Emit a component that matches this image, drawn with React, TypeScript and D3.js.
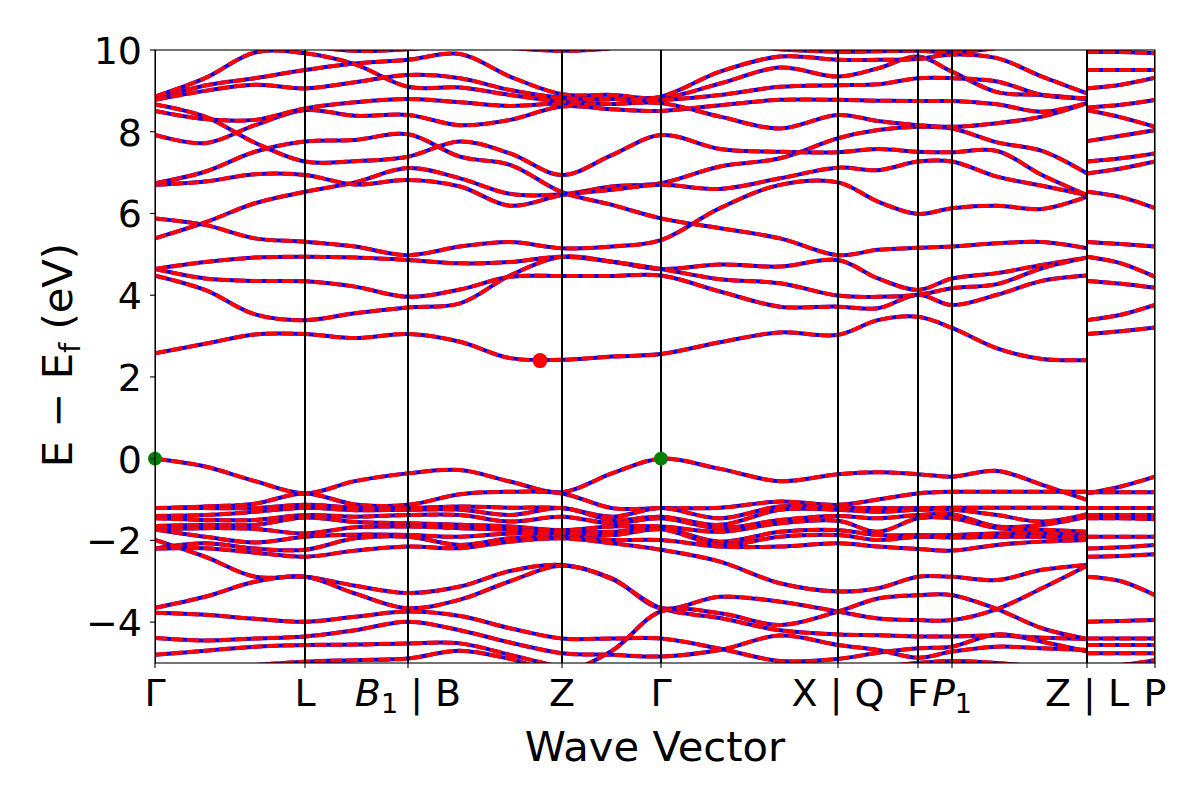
import * as d3 from 'd3';

// high-symmetry points along the path
const kTicks = [0, 1.5, 2.53, 4.07, 5.06, 6.83, 7.63, 7.97, 9.32, 10.0];
const kLabels = ['Γ', 'L', 'B_1 | B', 'Z', 'Γ', 'X | Q', 'F', 'P_1', 'Z | L', 'P'];
const yTicks = [-4, -2, 0, 2, 4, 6, 8, 10];

// sampled k along Γ-L-B1|B-Z-Γ-X|Q-F-P1-Z and the short L-P piece
const kPath = [0, 0.5, 1.0, 1.5, 2.0, 2.53, 3.05, 3.55, 4.07, 4.57, 5.06, 5.65, 6.25, 6.83, 7.23, 7.63, 7.97, 8.42, 8.87, 9.32];
const kPathLP = [9.32, 9.66, 10.0];

// conduction bands (eV) on kPath
const conduction = [
  [2.58, 2.81, 3.04, 3.05, 2.95, 3.05, 2.86, 2.46, 2.42, 2.50, 2.56, 2.85, 3.09, 3.03, 3.39, 3.47, 3.20, 2.70, 2.44, 2.41],
  [4.48, 4.13, 3.53, 3.39, 3.56, 3.70, 3.80, 4.48, 4.94, 4.82, 4.64, 4.75, 4.70, 4.86, 4.41, 4.13, 4.41, 4.54, 4.74, 4.92],
  [4.64, 4.41, 4.35, 4.34, 4.21, 3.96, 4.14, 4.45, 4.47, 4.47, 4.48, 4.09, 3.72, 3.72, 3.68, 4.01, 3.76, 4.01, 4.35, 4.48],
  [4.64, 4.81, 4.92, 4.94, 4.92, 4.86, 4.78, 4.81, 4.94, 4.82, 4.64, 4.39, 4.29, 3.99, 3.96, 4.01, 4.17, 4.27, 4.66, 4.92],
  [5.88, 5.72, 5.39, 5.31, 5.19, 4.98, 5.19, 5.30, 5.15, 5.19, 5.35, 6.13, 6.70, 6.76, 6.29, 5.99, 6.13, 6.19, 6.11, 6.41],
  [5.39, 5.78, 6.25, 6.53, 6.76, 7.11, 6.86, 6.48, 6.47, 6.66, 6.74, 7.15, 7.35, 7.84, 8.04, 8.12, 8.08, 7.74, 7.53, 6.98],
  [6.70, 6.78, 6.96, 6.94, 6.71, 6.82, 6.66, 6.19, 6.45, 6.58, 6.70, 6.60, 6.86, 7.12, 7.06, 7.27, 7.27, 6.90, 6.68, 6.45],
  [6.74, 7.02, 7.51, 7.76, 7.80, 7.94, 7.39, 7.19, 6.52, 6.21, 5.88, 5.64, 5.39, 4.98, 5.11, 5.16, 5.19, 5.27, 5.30, 5.15],
  [8.67, 8.37, 7.73, 7.27, 7.28, 7.39, 7.76, 7.47, 6.94, 7.43, 7.92, 7.58, 7.51, 7.50, 7.58, 7.51, 7.50, 7.53, 6.94, 6.45],
  [7.92, 7.72, 8.16, 8.53, 8.39, 8.41, 8.16, 8.29, 8.62, 8.55, 8.51, 8.65, 8.78, 8.78, 8.76, 8.75, 8.75, 8.67, 8.49, 8.70],
  [8.51, 8.31, 8.29, 8.57, 8.72, 8.80, 8.72, 8.63, 8.70, 8.68, 8.70, 8.37, 8.08, 8.41, 8.26, 8.16, 8.12, 8.21, 8.37, 8.70],
  [8.80, 9.13, 9.31, 9.51, 9.67, 9.76, 9.90, 9.35, 8.92, 8.90, 8.82, 9.18, 9.57, 9.35, 9.55, 9.84, 9.47, 8.97, 8.90, 8.80],
  [8.86, 9.31, 9.94, 9.92, 9.65, 9.10, 9.08, 8.90, 8.75, 8.80, 8.86, 9.47, 9.84, 9.76, 9.76, 9.78, 9.89, 9.80, 9.35, 8.94],
  [8.78, 9.00, 9.15, 9.06, 9.21, 9.39, 9.31, 9.02, 8.83, 8.80, 8.78, 8.90, 9.10, 9.14, 9.16, 9.31, 9.31, 9.23, 8.90, 8.82],
  [10.6, 10.4, 10.2, 10.1, 9.98, 10.02, 10.15, 10.05, 9.98, 10.05, 10.3, 10.2, 10.02, 9.96, 9.97, 9.98, 9.95, 10.05, 10.3, 10.5],
];

// valence bands (eV) on kPath
const valence = [
  [0, -0.19, -0.55, -0.85, -0.55, -0.36, -0.28, -0.56, -0.82, -0.36, 0, -0.25, -0.55, -0.38, -0.33, -0.38, -0.44, -0.30, -0.64, -1.01],
  [-1.21, -1.17, -1.10, -0.85, -1.12, -1.13, -0.87, -0.81, -0.85, -1.21, -1.21, -1.20, -1.05, -1.13, -1.00, -0.85, -0.81, -0.81, -0.81, -0.81],
  [-1.21, -1.21, -1.21, -1.13, -1.20, -1.21, -1.17, -1.20, -1.21, -1.42, -1.21, -1.46, -1.17, -1.20, -1.21, -1.21, -1.20, -1.20, -1.20, -1.21],
  [-1.40, -1.38, -1.30, -1.20, -1.26, -1.25, -1.25, -1.38, -1.21, -1.50, -1.42, -1.62, -1.25, -1.25, -1.30, -1.25, -1.25, -1.38, -1.54, -1.36],
  [-1.46, -1.50, -1.50, -1.38, -1.42, -1.38, -1.38, -1.54, -1.42, -1.58, -1.46, -1.70, -1.50, -1.40, -1.46, -1.38, -1.36, -1.66, -1.62, -1.42],
  [-1.65, -1.62, -1.62, -1.44, -1.55, -1.58, -1.62, -1.66, -1.75, -1.66, -1.66, -1.79, -1.58, -1.52, -1.79, -1.46, -1.46, -1.70, -1.74, -1.79],
  [-1.73, -1.70, -1.72, -1.83, -1.68, -1.66, -1.70, -1.74, -1.79, -1.79, -1.70, -2.03, -1.79, -1.75, -1.87, -1.87, -1.87, -1.83, -1.83, -1.87],
  [-1.73, -1.91, -2.05, -1.91, -1.86, -1.87, -1.91, -1.83, -1.83, -1.87, -1.73, -2.11, -1.91, -1.87, -1.99, -1.91, -1.93, -1.91, -1.91, -1.91],
  [-2.20, -2.07, -2.20, -2.23, -1.95, -1.91, -2.11, -1.95, -1.91, -1.99, -1.99, -2.15, -2.15, -2.07, -2.15, -2.21, -2.25, -2.11, -2.03, -1.99],
  [-2.20, -2.19, -2.30, -2.40, -2.25, -2.15, -2.19, -2.03, -1.95, -2.07, -2.23, -2.52, -3.05, -3.25, -3.17, -2.89, -2.89, -2.97, -2.72, -2.60],
  [-1.99, -2.40, -2.89, -2.89, -3.11, -3.29, -3.13, -2.75, -2.60, -2.93, -3.66, -3.38, -3.50, -3.74, -3.91, -3.95, -3.95, -3.68, -3.17, -2.62],
  [-3.65, -3.38, -3.01, -2.89, -3.30, -3.66, -3.45, -3.00, -2.62, -2.95, -3.66, -3.90, -4.20, -4.30, -4.32, -4.35, -4.35, -4.33, -4.38, -4.41],
  [-3.77, -3.82, -3.92, -3.99, -3.87, -3.74, -3.85, -4.15, -4.40, -4.40, -4.40, -4.65, -4.95, -4.90, -4.75, -4.64, -4.60, -4.30, -4.48, -4.72],
  [-4.39, -4.45, -4.40, -4.35, -4.20, -3.99, -4.20, -4.50, -4.76, -4.80, -4.84, -4.68, -4.33, -4.56, -4.68, -4.87, -4.72, -4.60, -4.64, -4.68],
  [-4.80, -4.70, -4.60, -4.56, -4.55, -4.52, -4.52, -4.80, -5.10, -5.30, -5.50, -5.40, -5.30, -5.20, -5.10, -5.00, -4.95, -5.00, -5.10, -5.20],
  [-5.30, -5.15, -5.05, -4.97, -4.93, -4.89, -4.70, -4.90, -5.20, -4.70, -3.74, -3.78, -4.07, -3.74, -3.42, -3.34, -3.34, -3.68, -4.15, -4.41],
];

// L-P piece
const bandsLP = [
  [9.96, 9.95, 9.92], [9.51, 9.51, 9.51], [9.06, 9.15, 9.32], [8.59, 8.66, 8.78], [8.53, 8.35, 8.12],
  [7.77, 7.90, 8.04], [7.27, 7.35, 7.47], [6.98, 7.10, 7.27], [6.53, 6.40, 6.13], [5.30, 5.25, 5.19],
  [4.94, 4.78, 4.45], [4.35, 4.28, 4.18], [3.39, 3.52, 3.76], [3.05, 3.12, 3.21],
  [-0.85, -0.68, -0.44], [-0.82, -0.82, -0.82], [-1.21, -1.21, -1.21], [-1.38, -1.38, -1.38],
  [-1.46, -1.46, -1.48], [-1.91, -1.91, -1.91], [-2.20, -2.17, -2.11], [-2.40, -2.38, -2.34],
  [-2.89, -3.00, -3.34], [-3.99, -3.97, -3.95], [-4.40, -4.40, -4.40], [-4.56, -4.56, -4.56],
  [-4.76, -4.76, -4.76], [-5.10, -5.05, -4.93],
];

// band edges: [k, E]
const vbmPoints = [[0, 0], [5.06, 0]];
const cbmPoints = [[3.85, 2.40]];

const W = 1200;
const H = 800;
const M = { left: 155, right: 1155, top: 50, bottom: 663 };
const FONT = 'DejaVu Sans, sans-serif';

function TickLabel({ text, x, y }: { text: string; x: number; y: number }) {
  // "B_1 | B" -> italic B with subscript 1, rest upright
  const m = text.match(/^([A-Za-z])_(\d)(.*)$/);
  if (!m) {
    return (
      <text x={x} y={y} textAnchor="middle" fontSize={38} fontFamily={FONT}>{text}</text>
    );
  }
  return (
    <text x={x} y={y} textAnchor="middle" fontSize={38} fontFamily={FONT}>
      <tspan fontStyle="italic">{m[1]}</tspan>
      <tspan fontSize={27} dy={7}>{m[2]}</tspan>
      <tspan dy={-7}>{m[3]}</tspan>
    </text>
  );
}

export default function App() {
  const x = d3.scaleLinear().domain([0, 10]).range([M.left, M.right]);
  const y = d3.scaleLinear().domain([-5, 10]).range([M.bottom, M.top]);

  const line = d3.line<number[]>()
    .x(d => x(d[0]))
    .y(d => y(d[1]))
    .curve(d3.curveCatmullRom.alpha(0.5));

  const paths: string[] = [];
  [...conduction, ...valence].forEach(b => {
    paths.push(line(kPath.map((k, i) => [k, b[i]])) as string);
  });
  bandsLP.forEach(b => {
    paths.push(line(kPathLP.map((k, i) => [k, b[i]])) as string);
  });

  return (
    <svg width={W} height={H} style={{ position: 'absolute', left: 0, top: 0, background: '#fff' }}>
      <defs>
        <clipPath id="plot">
          <rect x={M.left} y={M.top} width={M.right - M.left} height={M.bottom - M.top} />
        </clipPath>
      </defs>
      <rect width={W} height={H} fill="#fff" />

      <g clipPath="url(#plot)">
        {paths.map((d, i) => (
          <g key={i}>
            <path d={d} fill="none" stroke="#0000ff" strokeWidth={4} />
            <path d={d} fill="none" stroke="#ff0000" strokeWidth={4} strokeDasharray="12 4" />
          </g>
        ))}
        {kTicks.map((k, i) => (
          <line key={i} x1={x(k)} x2={x(k)} y1={M.top} y2={M.bottom} stroke="#000" strokeWidth={2} />
        ))}
      </g>

      {vbmPoints.map((p, i) => (
        <circle key={'v' + i} cx={x(p[0])} cy={y(p[1])} r={7} fill="#008000" />
      ))}
      {cbmPoints.map((p, i) => (
        <circle key={'c' + i} cx={x(p[0])} cy={y(p[1])} r={7.5} fill="#ff0000" />
      ))}

      <rect x={M.left} y={M.top} width={M.right - M.left} height={M.bottom - M.top}
        fill="none" stroke="#000" strokeWidth={1.1} />

      {yTicks.map(t => (
        <g key={t}>
          <line x1={M.left - 5} x2={M.left} y1={y(t)} y2={y(t)} stroke="#000" strokeWidth={1.1} />
          <text x={M.left - 13} y={y(t) + 14} textAnchor="end" fontSize={38} fontFamily={FONT}>
            {t < 0 ? '\u2212' + Math.abs(t) : String(t)}
          </text>
        </g>
      ))}
      {kTicks.map((k, i) => (
        <g key={i}>
          <line x1={x(k)} x2={x(k)} y1={M.bottom} y2={M.bottom + 5} stroke="#000" strokeWidth={1.1} />
          <TickLabel text={kLabels[i]} x={x(k)} y={706} />
        </g>
      ))}

      <text x={655} y={761} textAnchor="middle" fontSize={41.7} fontFamily={FONT}>Wave Vector</text>
      <text transform="translate(72,355) rotate(-90)" textAnchor="middle" fontSize={41.7} fontFamily={FONT}>
        E {'\u2212'} E<tspan fontSize={29} dy={8}>f</tspan><tspan dy={-8}> (eV)</tspan>
      </text>
    </svg>
  );
}
